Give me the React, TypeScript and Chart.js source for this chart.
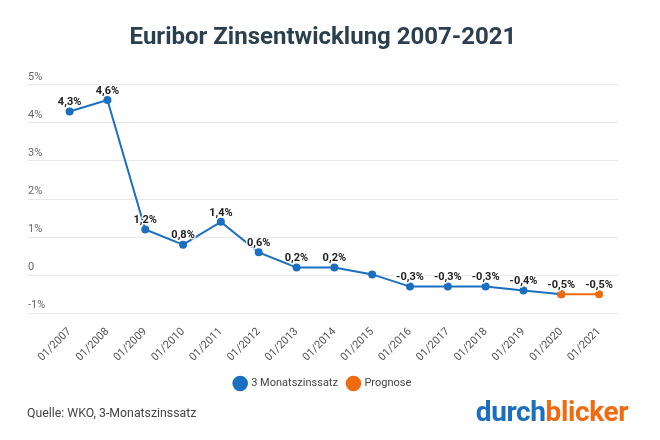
import React, { useEffect, useRef } from "react";
import { Chart, registerables } from "chart.js";

Chart.register(...registerables);

const categories = ["01/2007", "01/2008", "01/2009", "01/2010", "01/2011", "01/2012", "01/2013", "01/2014", "01/2015", "01/2016", "01/2017", "01/2018", "01/2019", "01/2020", "01/2021"];
const rateValues: (number | null)[] = [4.3, 4.6, 1.2, 0.8, 1.4, 0.6, 0.2, 0.2, 0.02, -0.3, -0.3, -0.3, -0.4, -0.5, null];
const forecastValues: (number | null)[] = [null, null, null, null, null, null, null, null, null, null, null, null, null, -0.5, -0.5];
const rateLabels: string[] = ["4,3%", "4,6%", "1,2%", "0,8%", "1,4%", "0,6%", "0,2%", "0,2%", "", "-0,3%", "-0,3%", "-0,3%", "-0,4%", "", ""];
const forecastLabels: string[] = ["", "", "", "", "", "", "", "", "", "", "", "", "", "-0,5%", "-0,5%"];
const yTickValues = [-1, 0, 1, 2, 3, 4, 5];
const yTickLabels = ["-1%", "0", "1%", "2%", "3%", "4%", "5%"];

const BLUE = "#1b6fc0";
const ORANGE = "#f06a10";

const valueLabelPlugin = {
  id: "valueLabels",
  afterDatasetsDraw(chart: any) {
    const ctx = chart.ctx;
    const sets = [rateLabels, forecastLabels];
    ctx.save();
    ctx.font = "bold 11px Roboto";
    ctx.textAlign = "center";
    ctx.textBaseline = "middle";
    sets.forEach((labels, di) => {
      const meta = chart.getDatasetMeta(di);
      meta.data.forEach((pt: any, i: number) => {
        const t = labels[i];
        if (!t) return;
        const x = pt.x;
        const y = pt.y - 9;
        ctx.lineWidth = 3;
        ctx.strokeStyle = "rgba(255,255,255,0.85)";
        ctx.lineJoin = "round";
        ctx.strokeText(t, x, y);
        ctx.fillStyle = "#222222";
        ctx.fillText(t, x, y);
      });
    });
    ctx.restore();
  },
};

export default function App() {
  const ref = useRef<HTMLCanvasElement | null>(null);
  useEffect(() => {
    if (!ref.current) return;
    const chart = new Chart(ref.current, {
      type: "line",
      data: {
        datasets: [
          {
            label: "3 Monatszinssatz",
            data: rateValues.map((v, i) => ({ x: i, y: v })) as any,
            borderColor: BLUE,
            backgroundColor: BLUE,
            pointBackgroundColor: BLUE,
            pointBorderColor: BLUE,
            borderWidth: 2,
            pointRadius: 4,
            pointBorderWidth: 0,
            spanGaps: false,
            order: 2,
          },
          {
            label: "Prognose",
            data: forecastValues.map((v, i) => ({ x: i, y: v })) as any,
            borderColor: ORANGE,
            backgroundColor: ORANGE,
            pointBackgroundColor: ORANGE,
            pointBorderColor: ORANGE,
            borderWidth: 2,
            pointRadius: 4,
            pointBorderWidth: 0,
            order: 1,
          },
        ],
      },
      options: {
        animation: false,
        responsive: false,
        maintainAspectRatio: false,
        layout: { padding: { top: 0, left: 28, right: 42, bottom: 41 } },
        scales: {
          x: {
            type: "linear",
            min: -1.1,
            max: 14.5,
            afterBuildTicks: (scale: any) => {
              scale.ticks = categories.map((_, i) => ({ value: i }));
            },
            grid: { display: false },
            border: { display: false },
            ticks: {
              minRotation: 45,
              maxRotation: 45,
              autoSkip: false,
              padding: 4,
              color: "#555555",
              font: { family: "Roboto", size: 11 },
              callback: (v: any) => categories[v as number] ?? "",
            },
          },
          y: {
            min: -1,
            max: 5,
            afterBuildTicks: (scale: any) => {
              scale.ticks = yTickValues.map((v) => ({ value: v }));
            },
            grid: { color: "#e8e8e8", drawTicks: false, lineWidth: 1 },
            border: { display: false },
            ticks: {
              mirror: true,
              padding: 0,
              labelOffset: -8,
              color: "#666666",
              font: { family: "Roboto", size: 11 },
              callback: (v: any) => yTickLabels[yTickValues.indexOf(v as number)] ?? "",
            },
          },
        },
        plugins: {
          title: {
            display: true,
            text: "Euribor Zinsentwicklung 2007-2021",
            color: "#2a3f4f",
            font: { family: "Roboto", size: 24, weight: "bold" },
            padding: { top: 24, bottom: 32 },
          },
          legend: {
            display: true,
            position: "bottom",
            labels: {
              usePointStyle: true,
              pointStyle: "circle",
              boxWidth: 12,
              boxHeight: 12,
              color: "#444444",
              font: { family: "Roboto", size: 11 },
              padding: 10,
              sort: (a: any, b: any) => a.datasetIndex - b.datasetIndex,
            },
          },
          tooltip: { enabled: false },
        },
      },
      plugins: [valueLabelPlugin],
    });
    return () => chart.destroy();
  }, []);

  return (
    <div style={{ position: "absolute", left: 0, top: 0, width: 660, height: 440, background: "#fff", fontFamily: "Roboto" }}>
      <canvas ref={ref} width={660} height={440} style={{ width: 660, height: 440, display: "block" }} />
      <div style={{ position: "absolute", left: 27, top: 405, fontSize: 12.3, color: "#444", lineHeight: "16px" }}>
        Quelle: WKO, 3-Monatszinssatz
      </div>
      <div style={{ position: "absolute", right: 32, top: 397, fontSize: 28, fontWeight: 700, lineHeight: "30px", letterSpacing: "-0.4px" }}>
        <span style={{ color: "#1a6fc0" }}>durch</span>
        <span style={{ color: "#f26a10" }}>blicker</span>
      </div>
    </div>
  );
}
